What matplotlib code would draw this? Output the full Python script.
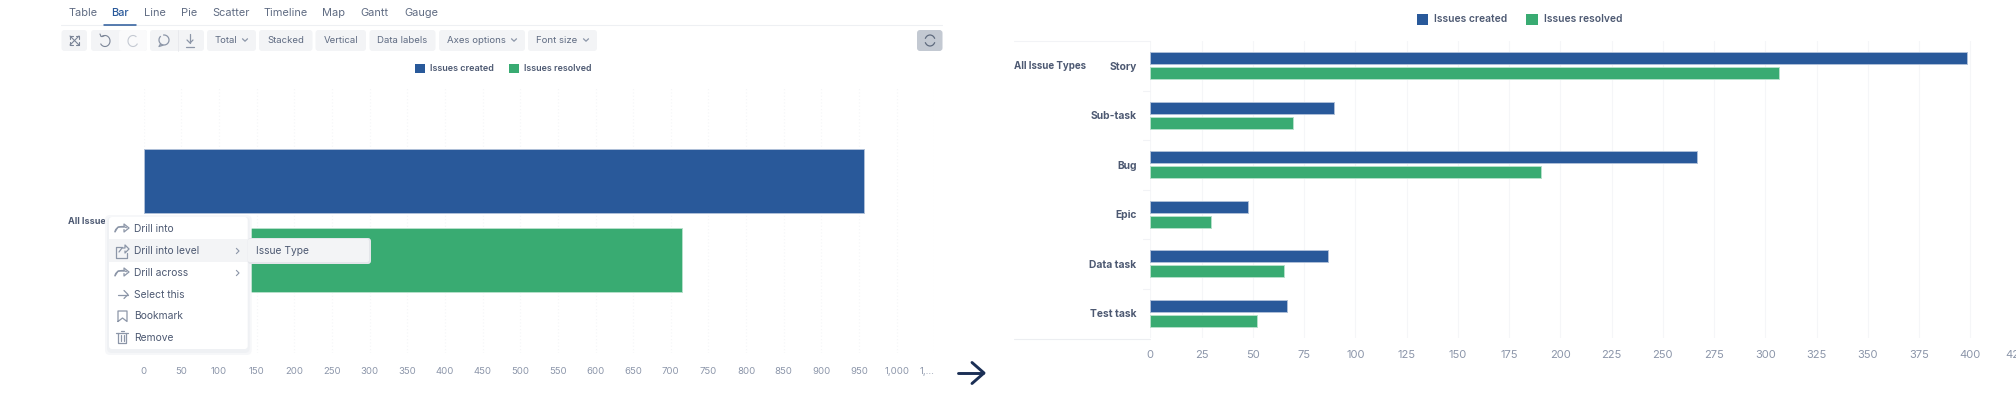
"""Issues created vs resolved, before and after drilling into issue type"""

import matplotlib
matplotlib.use("Agg")
import matplotlib.pyplot as plt
from matplotlib.patches import Arc, FancyBboxPatch, Rectangle
from matplotlib.transforms import ScaledTranslation

plt.rcParams["font.family"] = ["Inter", "DejaVu Sans"]

# data
series_names = ["Issues created", "Issues resolved"]
total_label = ["All Issue Types"]
total_created = [957]
total_resolved = [715]
left_ticks = list(range(0, 1100, 50))
left_tick_labels = [f"{t:,}" for t in left_ticks[:-1]] + ["1,..."]

issue_types = ["Story", "Sub-task", "Bug", "Epic", "Data task", "Test task"]
created = [398.5, 89.5, 266.5, 47.5, 86.5, 66.5]
resolved = [306.5, 69.5, 190.5, 29.5, 65, 52]
right_ticks = list(range(0, 450, 25))

tabs = ["Table", "Bar", "Line", "Pie", "Scatter", "Timeline", "Map", "Gantt", "Gauge"]
menu_items = ["Drill into", "Drill into level", "Drill across", "Select this", "Bookmark", "Remove"]

# colours
BLUE = "#29599a"
GREEN = "#39ab72"
BLUE_EDGE = "#aebfd8"
GREEN_EDGE = "#b5e0ca"
GRID = "#f5f6f8"
TICK = "#8b95a9"
LABEL = "#4d5972"
UI_TEXT = "#5f6b82"
ICON = "#8c96a8"
BTN = "#f3f4f6"

W, H = 2016, 407
fig = plt.figure(figsize=(W / 100, H / 100), dpi=100, facecolor="white")


def add_px_axes(x0, y0, x1, y1):
    """axes from pixel box, y measured from the top"""
    return fig.add_axes([x0 / W, 1 - y1 / H, (x1 - x0) / W, (y1 - y0) / H])


def style_chart(ax, ticks, labels, xmax, size, linestyle):
    ax.set_xlim(0, xmax)
    ax.set_xticks(ticks)
    ax.set_xticklabels(labels, fontsize=size, color=TICK)
    ax.xaxis.grid(True, color=GRID, lw=0.8, ls=linestyle)
    ax.set_axisbelow(True)
    ax.tick_params(axis="both", length=0)
    for side in ax.spines:
        ax.spines[side].set_visible(False)


def draw_bars(ax, names, first, second):
    pos = list(range(len(names)))
    ax.barh([p - 0.15 for p in pos], first, 0.24, color=BLUE, edgecolor=BLUE_EDGE, lw=0.7)
    ax.barh([p + 0.15 for p in pos], second, 0.24, color=GREEN, edgecolor=GREEN_EDGE, lw=0.7)
    ax.set_yticks(pos)
    ax.set_ylim(len(names) - 0.5, -0.5)


# left chart
ax_left = add_px_axes(143.7, 88, 143.7 + 0.753 * 1050, 353)
draw_bars(ax_left, total_label, total_created, total_resolved)
style_chart(ax_left, left_ticks, left_tick_labels, 1050, 6.9, (0, (1, 2)))
ax_left.set_yticklabels(total_label, fontsize=6.5, color=LABEL, fontweight="bold")
ax_left.tick_params(axis="x", pad=10)
ax_left.tick_params(axis="y", pad=5.5)
ax_left.get_xticklabels()[-1].set_ha("right")

# right chart, the last tick label runs off the picture like in the screenshot
ax_right = add_px_axes(1150.3, 41, 1150.3 + 2.05 * 425, 338)
draw_bars(ax_right, issue_types, created, resolved)
style_chart(ax_right, right_ticks, [str(t) for t in right_ticks], 425, 8, "-")
ax_right.set_yticklabels(issue_types, fontsize=7.4, color=LABEL, fontweight="bold")
ax_right.tick_params(axis="x", pad=9)
ax_right.tick_params(axis="y", pad=10)
last_label = ax_right.get_xticklabels()[-1]
last_label.set_ha("right")
last_label.set_transform(last_label.get_transform() + ScaledTranslation(0.045, 0, fig.dpi_scale_trans))

# screen furniture on top, in pixels
ui = fig.add_axes([0, 0, 1, 1], zorder=10)
ui.set_xlim(0, W)
ui.set_ylim(H, 0)
ui.axis("off")


def txt(x, y, s, size=7.9, color=UI_TEXT, ha="left", weight="normal"):
    ui.text(x, y, s, fontsize=size, color=color, ha=ha, va="center", fontweight=weight)


def box(x0, y0, x1, y1, color=BTN, radius=3.0, z=2, edge="none"):
    ui.add_patch(FancyBboxPatch((x0, y0), x1 - x0, y1 - y0, boxstyle=f"round,pad=0,rounding_size={radius}",
                                fc=color, ec=edge, lw=0.6, zorder=z))


def line(xs, ys, color=ICON, lw=0.9, z=6):
    ui.plot(xs, ys, color=color, lw=lw, zorder=z, solid_capstyle="round")


def chevron_down(x, y):
    line([x - 2.5, x, x + 2.5], [y - 1.2, y + 1.2, y - 1.2])


def legend(x, y0, y1, size_box, text_x, label, color, size):
    ui.add_patch(Rectangle((x, y0), size_box, y1 - y0, fc=color, ec="none"))
    txt(text_x, (y0 + y1) / 2, label, size=size, color=LABEL, weight="semibold")


# tabs
tab_x = [69, 111.6, 144, 181, 212, 264, 322, 360, 404]
for x, name in zip(tab_x, tabs):
    if name == "Bar":
        txt(x, 13, name, color=BLUE, weight="medium")
    else:
        txt(x, 13, name)
line([61, 942], [24.5, 24.5], color="#eef0f3", lw=0.8, z=2)
line([104, 136], [24.5, 24.5], color=BLUE, lw=1.1, z=3)

# toolbar
btn_edges = [(61.5, 87), (91, 147), (150, 204), (207, 256), (259, 312.5), (315.5, 366), (369.5, 435.5), (439, 525), (528, 597)]
btn_text = [None, None, None, "Total", "Stacked", "Vertical", "Data labels", "Axes options", "Font size"]
btn_chevron = [False, False, False, True, False, False, False, True, True]
for (x0, x1), label, chev in zip(btn_edges, btn_text, btn_chevron):
    box(x0, 30, x1, 51)
    if label and chev:
        txt(x0 + 8, 40.5, label, size=6.9)
        chevron_down(x1 - 11, 40)
    elif label:
        txt((x0 + x1) / 2, 40.5, label, size=6.9, ha="center")
box(119, 30, 147, 51, color="#fafafb", z=3)
line([178, 178], [30, 51], color="#e6e8ec", lw=0.6, z=4)
box(917, 30, 942.5, 51, color="#c3c9d2")

# toolbar icons
for xs, ys in (([70, 79], [36, 45]), ([70, 79], [45, 36]), ([70, 73], [36, 36]), ([70, 70], [36, 39]),
               ([79, 76], [45, 45]), ([79, 79], [45, 42]), ([79, 76], [36, 36]), ([79, 79], [36, 39]),
               ([70, 73], [45, 45]), ([70, 70], [45, 42])):
    line(xs, ys, color="#7b8597", lw=0.8)
ui.add_patch(Arc((105, 41), 10, 11, theta1=-130, theta2=150, color="#7b8597", lw=0.8, zorder=6))
line([100, 101, 104], [34, 36.5, 36], color="#7b8597", lw=0.8)
ui.add_patch(Arc((133, 41), 10, 11, theta1=30, theta2=310, color="#c4c9d2", lw=0.8, zorder=6))
ui.add_patch(Arc((164, 40), 10, 10, theta1=-100, theta2=230, color=ICON, lw=0.9, zorder=6))
line([160.5, 159, 163], [44, 46.5, 45.2])
line([190, 190], [34, 43])
line([187, 190, 193], [40, 43, 40])
line([186, 194], [46.5, 46.5])
ui.add_patch(Arc((930, 40.5), 10, 11, theta1=20, theta2=160, color="#5f6b7e", lw=0.9, zorder=6))
ui.add_patch(Arc((930, 40.5), 10, 11, theta1=200, theta2=340, color="#5f6b7e", lw=0.9, zorder=6))

# legends
legend(415, 64, 72.7, 9.5, 430, series_names[0], BLUE, 6.5)
legend(509, 64, 72.7, 9.5, 524, series_names[1], GREEN, 6.4)
legend(1416.7, 13.7, 24.7, 11.7, 1434, series_names[0], BLUE, 7.4)
legend(1526, 13.7, 24.7, 11.7, 1543.7, series_names[1], GREEN, 7.4)

# right chart rules
line([1014, 1150], [40.5, 40.5], color="#f2f3f6", lw=0.8, z=1)
line([1014, 1150], [338.5, 338.5], color="#eceef1", lw=0.8, z=1)
for i in range(1, 6):
    y = 41 + i * 49.5
    line([1143, 1150], [y, y], color="#f2f3f6", lw=0.8, z=1)
txt(1014, 66, total_label[0], size=7, color=LABEL, weight="bold")

# context menu
for grow, col in ((4, "#f6f7f9"), (2, "#eff1f4")):
    box(109 - grow, 217 - grow + 2, 247.7 + grow, 349 + grow + 2, color=col, radius=5, z=7)
box(109, 217, 247.7, 349, color="white", z=8)
ui.add_patch(Rectangle((109, 239), 138.7, 23, fc=BTN, ec="none", zorder=8.5))
box(247.7, 238, 371, 264, color="#e4e6ea", radius=3, z=8.6)
box(247.7, 239, 369, 262, color=BTN, radius=2, z=8.7)

menu_y = [229, 251, 273, 294.5, 316, 338]
for y, name in zip(menu_y, menu_items):
    ui.text(134, y, name, fontsize=7.4, color=LABEL, va="center", zorder=12)
ui.text(255.7, 251.5, "Issue Type", fontsize=7.4, color=LABEL, va="center", zorder=12)


def menu_line(xs, ys):
    line(xs, ys, color=ICON, z=12)


# drill into and drill across, outline arrows
for y in (229, 273):
    ui.add_patch(Arc((122, y + 3), 14, 11, theta1=180, theta2=320, color=ICON, lw=0.9, zorder=12))
    menu_line([115, 118, 124, 124, 129, 124, 124], [y + 3, y - 2, y - 2, y - 5, y - 1, y + 3, y + 0.5])
# drill into level, arrow leaving a box
menu_line([122, 116, 116, 127, 127], [247, 247, 258, 258, 253])
menu_line([119, 122, 125, 125, 129, 125, 125], [252, 248, 248, 245, 249, 253, 251])
# select this
menu_line([118, 128], [294.5, 294.5])
menu_line([124, 128, 124], [290.5, 294.5, 298.5])
# bookmark
menu_line([118, 118, 127, 127, 122.5, 118], [321.5, 311, 311, 321.5, 318, 321.5])
# remove
menu_line([116, 128], [333, 333])
menu_line([118, 118, 126, 126], [333, 343, 343, 333])
menu_line([120.5, 123.5], [331, 331])
for x in (120.5, 123.5):
    menu_line([x, x], [335, 341])
for y in (251, 273):
    ui.plot([236.5, 239, 236.5], [y - 2.5, y, y + 2.5], color=ICON, lw=0.8, zorder=12)

# arrow between the two charts
line([958, 983], [373, 373], color="#1b2f55", lw=2.1)
line([972, 984, 972], [362.5, 373, 383.5], color="#1b2f55", lw=2.1)

fig.savefig("out.png", dpi=100)
